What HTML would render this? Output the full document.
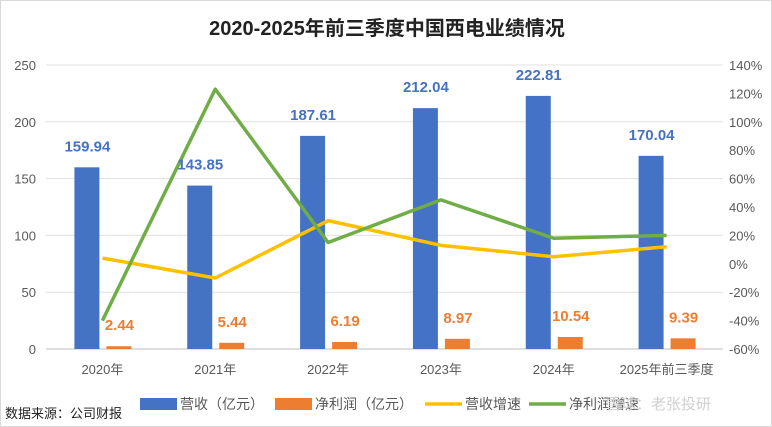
<!DOCTYPE html>
<html><head><meta charset="utf-8"><style>
body{margin:0;background:#fff;font-family:"Liberation Sans","Noto Sans CJK SC",sans-serif}
#wrap{position:relative;width:772px;height:427px;overflow:hidden;box-sizing:border-box;border:1px solid #d9d9d9}
</style></head><body>
<div id="wrap">
<svg id="chart" width="772" height="427"></svg>
</div>
<script>
const categories=["2020年","2021年","2022年","2023年","2024年","2025年前三季度"];
const revenue=[159.94,143.85,187.61,212.04,222.81,170.04];
const profit=[2.44,5.44,6.19,8.97,10.54,9.39];
const revGrowth=[4,-10,30.4,13,5,12];
const profitGrowth=[-40,123,15,45,18,20];
const leftTicks=[0,50,100,150,200,250];
const rightTicks=[-60,-40,-20,0,20,40,60,80,100,120,140];
const NS="http://www.w3.org/2000/svg";
const svg=document.getElementById('chart');
const x0=45,x1=722,yTop=64,yBot=348;
const band=(x1-x0)/categories.length;
const cx=i=>x0+band*(i+0.5);
const yL=v=>yBot-(v/250)*(yBot-yTop);
const yR=v=>yBot-((v+60)/200)*(yBot-yTop);
function el(t,a,txt){const e=document.createElementNS(NS,t);for(const k in a)e.setAttribute(k,a[k]);if(txt!==undefined)e.textContent=txt;svg.appendChild(e);return e;}
let t=el('text',{x:386,y:34,'text-anchor':'middle','font-size':20,'font-weight':'bold',fill:'#222'},'2020-2025年前三季度中国西电业绩情况');


leftTicks.forEach(v=>{
 let g=el('line',{x1:x0,x2:x1,y1:yL(v),y2:yL(v),stroke:v?'#e0e0e0':'#bfbfbf','stroke-width':1});
 
 
 let l=el('text',{x:35,y:yL(v)+5,'text-anchor':'end','font-size':13,fill:'#595959'},v);
 
 
});
rightTicks.forEach(v=>{
 let l=el('text',{x:728,y:yR(v)+5,'font-size':13,fill:'#595959'},v+'%');
 
 
});
categories.forEach((c,i)=>{
 let l=el('text',{x:cx(i),y:373,'text-anchor':'middle','font-size':13,fill:'#595959'},c);
 
 
 let b=el('rect',{x:cx(i)-28,y:yL(revenue[i]),width:25,height:yBot-yL(revenue[i]),fill:'#4472c4'});
 
 
 let o=el('rect',{x:cx(i)+4,y:yL(profit[i]),width:25,height:yBot-yL(profit[i]),fill:'#ed7d31'});
 
 
});
function line(arr,color,name){
 const p=arr.map((v,i)=>cx(i)+','+yR(v)).join(' ');
 let l=el('polyline',{points:p,fill:'none',stroke:color,'stroke-width':3.5,'stroke-linejoin':'round'});
 
 
}
line(revGrowth,'#ffc000','revenue-growth-line');
line(profitGrowth,'#70ad47','profit-growth-line');
categories.forEach((c,i)=>{
 let a=el('text',{x:cx(i)-15,y:yL(revenue[i])-16,'text-anchor':'middle','font-size':15,'font-weight':'bold',fill:'#4472c4'},revenue[i].toFixed(2));
 
 
 let b=el('text',{x:cx(i)+17,y:yL(profit[i])-16,'text-anchor':'middle','font-size':15,'font-weight':'bold',fill:'#ed7d31'},profit[i].toFixed(2));
 
 
});
const leg=[['rect','#4472c4','营收（亿元）',139],['rect','#ed7d31','净利润（亿元）',274],['line','#ffc000','营收增速',424],['line','#70ad47','净利润增速',528]];
leg.forEach(([k,c,txt,x])=>{
 let m=k==='rect'?el('rect',{x:x,y:397,width:37,height:12,fill:c}):el('line',{x1:x,x2:x+37,y1:403,y2:403,stroke:c,'stroke-width':3.5});
 
 
 let l=el('text',{x:x+40,y:408,'font-size':14,fill:'#595959'},txt);
 
 
});
let w=el('text',{x:605,y:408,'font-size':15,fill:'#d0d0d0'},'雪球：老张投研');


let s=el('text',{x:4,y:417,'font-size':13,fill:'#222'},'数据来源：公司财报');


</script>
</body></html>
